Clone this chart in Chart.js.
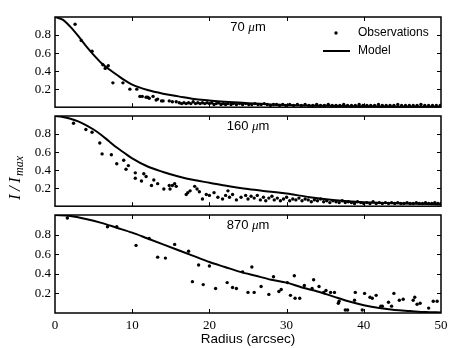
<!DOCTYPE html>
<html>
<head>
<meta charset="utf-8">
<script src="https://cdn.jsdelivr.net/npm/chart.js@4.4.0/dist/chart.umd.min.js"></script>
<style>
html, body { margin: 0; padding: 0; background: #fff; }
#wrap { position: relative; width: 463px; height: 348px; overflow: hidden; }
canvas { position: absolute; left: 0; }
</style>
</head>
<body>
<div id="wrap">
  <canvas id="p70" width="463" height="119" style="top:0px;width:463px;height:119px"></canvas>
  <canvas id="p160" width="463" height="119" style="top:99px;width:463px;height:119px"></canvas>
  <canvas id="p870" width="463" height="150" style="top:198px;width:463px;height:150px"></canvas>
</div>
<script>
// tick values shared by the three panels
var xTicks = [0, 10, 20, 30, 40, 50];
var yTicks = [0.2, 0.4, 0.6, 0.8];

// 70 micron profile [radius, I/Imax]
var obs70 = [[2.6,0.92],[3.4,0.74],[4.8,0.62],[6.2,0.47],[6.5,0.43],[6.9,0.46],[7.5,0.27],[8.8,0.27],[9.7,0.20],[10.6,0.20],
  [11.0,0.12],[11.3,0.12],[11.8,0.11],[12.0,0.11],[12.2,0.10],[12.7,0.12],[13.1,0.08],[13.3,0.09],[13.8,0.07],[14.0,0.07],
  [14.8,0.07],[15.2,0.06],[15.7,0.06],[16.1,0.05],[16.4,0.04],[16.7,0.05],[17.0,0.04],[17.3,0.05],[17.6,0.04],[17.9,0.06],
  [18.2,0.04],[18.5,0.05],[18.8,0.04],[19.1,0.05],[19.4,0.04],[19.7,0.05],[20.0,0.04],[20.3,0.05],[20.6,0.03],[20.9,0.04],
  [21.2,0.05],[21.5,0.03],[21.8,0.04],[22.1,0.03],[22.4,0.04],[22.8,0.03],[23.1,0.04],[23.5,0.03],[23.9,0.04],[24.3,0.03],
  [24.7,0.04],[25.1,0.03],[25.5,0.03],[25.9,0.04],[26.3,0.03],[26.7,0.03],[27.1,0.04],[27.5,0.03],[27.9,0.02],[28.3,0.03],
  [28.7,0.03],[29.1,0.02],[29.5,0.03],[29.9,0.02],[30.4,0.03],[30.9,0.02],[31.4,0.03],[31.9,0.02],[32.4,0.03],[32.9,0.02],
  [33.4,0.02],[33.9,0.03],[34.4,0.02],[34.9,0.02],[35.4,0.03],[35.9,0.02],[36.4,0.02],[36.9,0.02],[37.4,0.03],[37.9,0.02],
  [38.4,0.02],[38.9,0.02],[39.4,0.03],[39.9,0.02],[40.4,0.02],[40.9,0.02],[41.4,0.02],[41.9,0.03],[42.4,0.02],[42.9,0.02],
  [43.4,0.02],[43.9,0.02],[44.4,0.03],[44.9,0.02],[45.4,0.02],[45.9,0.02],[46.4,0.02],[46.9,0.02],[47.4,0.03],[47.9,0.02],
  [48.4,0.02],[48.9,0.02],[49.4,0.02],[49.9,0.02]];
var model70 = [[0,1.0],[1,0.97],[2,0.89],[3,0.79],[4,0.68],[5,0.58],[6,0.49],[7,0.42],[8,0.36],[9,0.30],[10,0.25],
  [12,0.19],[14,0.15],[16,0.12],[18,0.09],[20,0.075],[22,0.06],[25,0.045],[30,0.025],[35,0.015],[40,0.01],[45,0.006],[50,0.004]];

// 160 micron profile
var obs160 = [[2.4,0.92],[4.0,0.85],[4.8,0.82],[5.8,0.70],[6.1,0.58],[7.3,0.57],[8.0,0.47],[8.9,0.51],[9.2,0.41],[9.5,0.45],
  [10.4,0.37],[10.4,0.31],[11.2,0.28],[11.5,0.36],[11.8,0.33],[12.5,0.23],[12.8,0.29],[13.3,0.25],[14.1,0.19],[14.8,0.23],
  [14.9,0.19],[15.2,0.23],[15.5,0.25],[15.7,0.22],[17.0,0.13],[17.2,0.15],[17.5,0.17],[18.1,0.22],[18.4,0.19],[18.7,0.16],
  [19.1,0.08],[19.6,0.13],[20.0,0.12],[20.6,0.15],[21.1,0.10],[21.7,0.08],[22.1,0.12],[22.4,0.17],[22.6,0.10],[23.0,0.13],
  [23.5,0.07],[24.1,0.10],[24.7,0.12],[25.0,0.08],[25.4,0.11],[25.8,0.09],[26.2,0.12],[26.6,0.07],[27.0,0.10],[27.3,0.06],
  [27.7,0.09],[28.1,0.11],[28.4,0.07],[28.8,0.09],[29.2,0.06],[29.6,0.08],[30.0,0.10],[30.4,0.06],[30.8,0.08],[31.2,0.07],
  [31.6,0.09],[32.0,0.06],[32.4,0.08],[32.8,0.07],[33.2,0.05],[33.6,0.07],[34.0,0.06],[34.4,0.08],[34.8,0.05],[35.2,0.06],
  [35.6,0.04],[36.0,0.06],[36.4,0.05],[36.8,0.04],[37.2,0.06],[37.6,0.04],[38.0,0.05],[38.4,0.04],[38.8,0.03],[39.2,0.05],
  [39.6,0.04],[40.0,0.03],[40.4,0.04],[40.8,0.03],[41.2,0.05],[41.6,0.03],[42.0,0.04],[42.4,0.03],[42.8,0.04],[43.2,0.03],
  [43.6,0.04],[44.0,0.03],[44.4,0.04],[44.8,0.03],[45.2,0.03],[45.6,0.04],[46.0,0.03],[46.4,0.03],[46.8,0.04],[47.2,0.03],
  [47.6,0.03],[48.0,0.04],[48.4,0.03],[48.8,0.03],[49.2,0.04],[49.6,0.03],[50.0,0.03]];
var model160 = [[0,1.0],[1,0.99],[2,0.97],[3,0.94],[4,0.90],[5,0.85],[6,0.79],[7,0.72],[8,0.65],[9,0.59],[10,0.53],
  [12,0.44],[14,0.38],[16,0.33],[18,0.29],[20,0.26],[22,0.23],[25,0.19],[28,0.16],[30,0.14],[33,0.10],[36,0.07],
  [40,0.045],[45,0.03],[50,0.02]];

// 870 micron profile
var obs870 = [[1.6,0.97],[6.8,0.88],[8.0,0.88],[10.5,0.69],[12.2,0.76],[13.3,0.57],[14.3,0.56],[15.5,0.70],[17.3,0.63],[17.8,0.32],
  [18.6,0.49],[19.2,0.29],[20.0,0.48],[20.8,0.25],[22.3,0.31],[23.0,0.26],[23.5,0.25],[24.3,0.42],[25.0,0.21],[25.5,0.47],
  [25.8,0.21],[26.7,0.27],[27.7,0.19],[28.3,0.37],[29.0,0.22],[29.3,0.24],[30.1,0.31],[30.5,0.18],[31.0,0.38],[31.1,0.15],
  [31.7,0.15],[32.3,0.28],[33.3,0.25],[33.5,0.34],[34.2,0.27],[34.8,0.21],[35.1,0.23],[35.7,0.21],[36.2,0.21],[36.7,0.10],
  [36.8,0.12],[37.6,0.03],[37.9,0.03],[38.8,0.13],[38.9,0.21],[39.8,0.03],[40.1,0.20],[40.8,0.16],[41.1,0.15],[41.6,0.18],
  [42.2,0.07],[42.4,0.07],[43.2,0.11],[43.6,0.07],[43.9,0.20],[44.6,0.13],[45.1,0.14],[46.4,0.13],[46.6,0.16],[46.9,0.09],
  [47.3,0.10],[48.4,0.05],[49.0,0.12],[49.5,0.12]];
var model870 = [[0,1.0],[2,0.99],[4,0.96],[6,0.92],[8,0.87],[10,0.82],[12,0.76],[14,0.70],[16,0.64],[18,0.58],[20,0.52],
  [22,0.47],[24,0.42],[26,0.38],[28,0.34],[30,0.31],[32,0.26],[34,0.22],[36,0.17],[38,0.12],[40,0.08],[42,0.05],
  [44,0.03],[46,0.02],[48,0.01],[50,0.005]];

var SERIF = '"Liberation Serif", "DejaVu Serif", serif';
var SANS = '"Liberation Sans", Arial, sans-serif';

function toPoints(arr) {
  return arr.map(function (p) { return { x: p[0], y: p[1] }; });
}

// frame, inward ticks, panel label and extra texts
var framePlugin = {
  id: 'frame',
  afterDatasetsDraw: function (chart, args, opts) {
    var ctx = chart.ctx, a = chart.chartArea;
    var xs = chart.scales.x, ys = chart.scales.y;
    ctx.save();
    ctx.strokeStyle = '#000';
    ctx.lineWidth = 1;
    ctx.beginPath();
    xTicks.slice(1, -1).forEach(function (v) {
      var px = Math.round(xs.getPixelForValue(v)) + 0.5;
      ctx.moveTo(px, a.top); ctx.lineTo(px, a.top + 4);
      ctx.moveTo(px, a.bottom); ctx.lineTo(px, a.bottom - 4);
    });
    yTicks.forEach(function (v) {
      var py = Math.round(ys.getPixelForValue(v)) + 0.5;
      ctx.moveTo(a.left, py); ctx.lineTo(a.left + 4, py);
      ctx.moveTo(a.right, py); ctx.lineTo(a.right - 4, py);
    });
    ctx.stroke();
    ctx.lineWidth = 1.5;
    ctx.strokeRect(a.left, a.top, a.right - a.left, a.bottom - a.top);

    // panel label, e.g. "70 μm"
    var cx = xs.getPixelForValue(25), cy = a.top + 10;
    var sans = '13px ' + SANS, mu = 'italic 13px ' + SERIF;
    ctx.fillStyle = '#000';
    ctx.textBaseline = 'middle';
    ctx.textAlign = 'left';
    ctx.font = sans; var w1 = ctx.measureText(opts.wave + ' ').width, w3 = ctx.measureText('m').width;
    ctx.font = mu; var w2 = ctx.measureText('\u03bc').width;
    var x0 = cx - (w1 + w2 + w3) / 2;
    ctx.font = sans; ctx.fillText(opts.wave + ' ', x0, cy);
    ctx.font = mu; ctx.fillText('\u03bc', x0 + w1, cy + 1);
    ctx.font = sans; ctx.fillText('m', x0 + w1 + w2, cy);

    if (opts.legend) {
      ctx.font = '12px ' + SANS;
      ctx.beginPath();
      ctx.arc(336, 33, 1.7, 0, Math.PI * 2);
      ctx.fill();
      ctx.fillText(chart.data.datasets[0].label, 358, 33);
      ctx.lineWidth = 2;
      ctx.beginPath();
      ctx.moveTo(323, 51); ctx.lineTo(350, 51);
      ctx.stroke();
      ctx.fillText(chart.data.datasets[1].label, 358, 51);
    }
    if (opts.yTitle) {
      // I/I_max, rotated, reading upward
      ctx.translate(20, 103);
      ctx.rotate(-Math.PI / 2);
      ctx.textBaseline = 'alphabetic';
      ctx.font = 'italic 17px ' + SERIF;
      ctx.fillText('I', 2, 0);
      ctx.fillText('/', 11, 0);
      ctx.fillText('I', 19, 0);
      ctx.font = 'italic 12px ' + SERIF;
      ctx.fillText('max', 26, 3);
    }
    if (opts.xTitle) {
      ctx.textAlign = 'center';
      ctx.font = '13.5px ' + SANS;
      ctx.fillText('Radius (arcsec)', xs.getPixelForValue(25), 141);
    }
    ctx.restore();
  }
};

function makePanel(id, obs, model, opts) {
  var ctx = document.getElementById(id).getContext('2d');
  return new Chart(ctx, {
    type: 'scatter',
    data: {
      datasets: [{
        label: 'Observations',
        data: toPoints(obs),
        showLine: false,
        pointRadius: 1.7,
        pointHoverRadius: 1.7,
        pointBackgroundColor: '#000',
        pointBorderWidth: 0,
        borderColor: '#000'
      }, {
        label: 'Model',
        data: toPoints(model),
        showLine: true,
        pointRadius: 0,
        borderColor: '#000',
        borderWidth: 2,
        cubicInterpolationMode: 'monotone'
      }]
    },
    options: {
      responsive: false,
      animation: false,
      events: [],
      layout: { padding: { top: 17, bottom: opts.xTitle ? 0 : 3, left: 0, right: 22 } },
      plugins: {
        legend: { display: false },
        tooltip: { enabled: false },
        frame: opts
      },
      scales: {
        x: {
          type: 'linear',
          min: 0,
          max: 50,
          display: !!opts.xTitle,
          afterBuildTicks: function (s) { s.ticks = xTicks.map(function (v) { return { value: v }; }); },
          afterFit: function (s) { if (opts.xTitle) { s.height = 35; } },
          grid: { display: false, drawTicks: false },
          border: { display: false },
          ticks: {
            padding: 5,
            color: '#000',
            font: { family: SERIF, size: 13 }
          }
        },
        y: {
          min: 0,
          max: 1,
          afterBuildTicks: function (s) { s.ticks = yTicks.map(function (v) { return { value: v }; }); },
          afterFit: function (s) { s.width = 55; },
          grid: { display: false, drawTicks: false },
          border: { display: false },
          ticks: {
            padding: 4,
            color: '#000',
            font: { family: SERIF, size: 13 },
            callback: function (v) { return v.toFixed(1); }
          }
        }
      }
    },
    plugins: [framePlugin]
  });
}

makePanel('p70', obs70, model70, { wave: '70', legend: true });
makePanel('p160', obs160, model160, { wave: '160', yTitle: true });
makePanel('p870', obs870, model870, { wave: '870', xTitle: true });
</script>
</body>
</html>
